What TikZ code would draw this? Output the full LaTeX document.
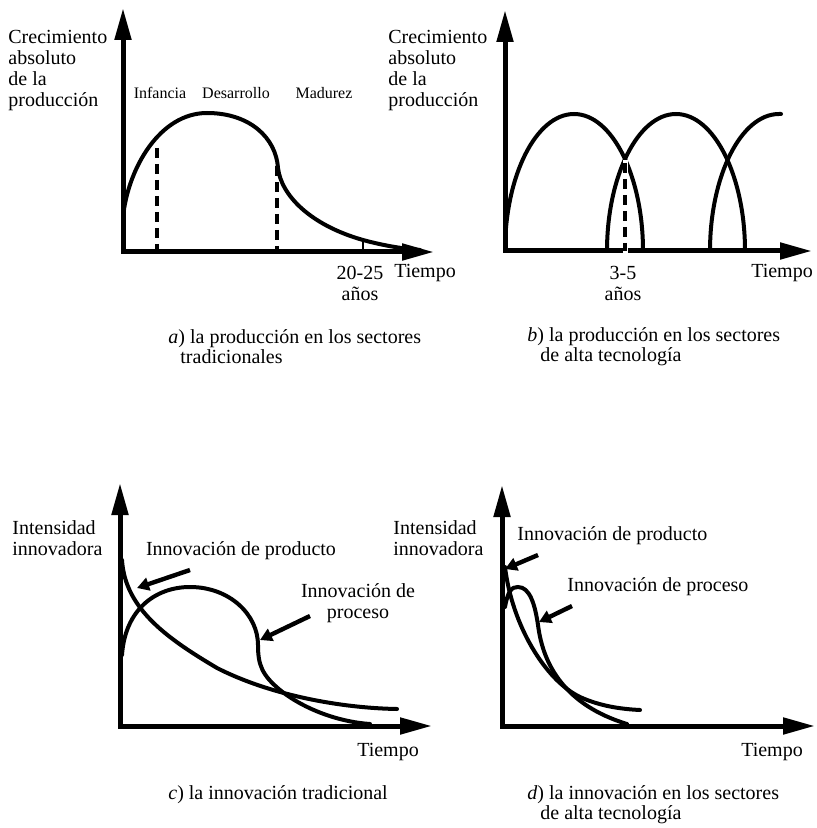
\documentclass[tikz,border=0pt]{standalone}
\usepackage{fontspec}
\setmainfont{Liberation Serif}
\usetikzlibrary{arrows.meta}
\tikzset{axes/.style={line width=2.5pt, line join=miter, {Triangle[length=16pt,width=8pt]}-{Triangle[length=16pt,width=8pt]}},
         curve/.style={line width=2pt, line cap=round},
         guide/.style={line width=1.6pt, dash pattern=on 5pt off 3pt},
         ptr/.style={line width=2.2pt, -{Triangle[length=6pt,width=6.5pt]}},
         lbl/.style={font=\fontsize{10}{10.5}\selectfont, align=left, inner sep=0pt},
         stage/.style={font=\fontsize{8}{9}\selectfont, inner sep=0pt},
         capt/.style={font=\fontsize{10}{10}\selectfont, align=left, inner sep=0pt}}
\begin{document}
\begin{tikzpicture}[x=0.5pt, y=-0.5pt]
\useasboundingbox (0,0) rectangle (817,828);
% a) sectores tradicionales
\coordinate (ay) at (123,8); \coordinate (ao) at (123,252); \coordinate (ax) at (434,252);
\draw[curve] (123,217) .. controls (128,168) and (160,113) .. (207,113) .. controls (250,113) and (276,138) .. (278,168) .. controls (281,195) and (310,225) .. (363,240) .. controls (385,246) and (405,249) .. (420,250);
\draw[guide] (157,148) -- (157,250);
\draw[guide] (277,166) -- (277,250);
\draw[line width=1pt] (363,240) -- (363,251);
\draw[axes] (ay) -- (ao) -- (ax);
\node[lbl, anchor=west] (ya) at (8,71) {Crecimiento\\absoluto\\de la\\producción};
\node[stage] (inf) at (160,93) {Infancia};
\node[stage] (des) at (236,93) {Desarrollo};
\node[stage] (mad) at (324,93) {Madurez};
\node[lbl, align=center] (yrsa) at (360,283) {20-25\\años};
\node[lbl] (ta) at (425,273) {Tiempo};
\node[capt, anchor=west] (capa) at (168,347) {\textit{a}) la producción en los sectores\\\hspace*{6pt}tradicionales};
% b) alta tecnología
\coordinate (by) at (505,10); \coordinate (bo) at (505,251); \coordinate (bx) at (812,251);
\foreach \c in {574,676} {
  \draw[curve] (\c-69,251) .. controls (\c-69,176) and (\c-38,114) .. (\c,114) .. controls (\c+38,114) and (\c+69,176) .. (\c+69,251);
}
\draw[curve] (710,251) .. controls (710,176) and (741,114) .. (779,114) -- (781,114);
\draw[axes] (by) -- (bo) -- (bx);
\draw[white, line width=2.5pt] (625,160) -- (625,253);
\draw[guide] (625,163) -- (625,251);
\node[lbl, anchor=west] (yb) at (388,71) {Crecimiento\\absoluto\\de la\\producción};
\node[lbl, align=center] (yrsb) at (623,283) {3-5\\años};
\node[lbl] (tb) at (782,273) {Tiempo};
\node[capt, anchor=west] (capb) at (527,347) {\textit{b}) la producción en los sectores\\\hspace*{6.5pt}de alta tecnología};
% c) innovación tradicional
\coordinate (cy) at (120,483); \coordinate (co) at (120,726); \coordinate (cx) at (432,726);
\draw[curve] (122,560) .. controls (125,610) and (170,640) .. (217,668) .. controls (270,695) and (340,708) .. (397,709);
\draw[curve] (122,655) .. controls (125,610) and (155,587) .. (190,587) .. controls (230,587) and (258,615) .. (258,645) .. controls (258,665) and (262,675) .. (280,690) .. controls (305,710) and (340,722) .. (370,724);
\draw[axes] (cy) -- (co) -- (cx);
\node[lbl, anchor=west] (yc) at (12,538) {Intensidad\\innovadora};
\node[lbl] (prc) at (241,551) {Innovación de producto};
\node[lbl, align=center] (psc) at (358,603) {Innovación de\\proceso};
\coordinate (prc1) at (190,570); \coordinate (prc2) at (137,588);
\coordinate (psc1) at (310,616); \coordinate (psc2) at (260,640);
\draw[ptr] (prc1) -- (prc2);
\draw[ptr] (psc1) -- (psc2);
\node[lbl] (tc) at (388,752) {Tiempo};
\node[capt, anchor=west] (capc) at (168,795) {\textit{c}) la innovación tradicional};
% d) innovación en alta tecnología
\coordinate (dy) at (502,485); \coordinate (do) at (502,726); \coordinate (dx) at (815,726);
\draw[curve] (505,567) .. controls (512,625) and (545,680) .. (580,697) .. controls (600,706) and (620,709) .. (640,710);
\draw[curve] (505,607) .. controls (508,590) and (512,587) .. (518,587) .. controls (530,587) and (535,605) .. (538,625) .. controls (543,665) and (565,705) .. (627,724);
\draw[axes] (dy) -- (do) -- (dx);
\node[lbl, anchor=west] (yd) at (393,538) {Intensidad\\innovadora};
\node[lbl, anchor=west] (prd) at (517,536) {Innovación de producto};
\node[lbl, anchor=west] (psd) at (567,587) {Innovación de proceso};
\coordinate (prd1) at (538,555); \coordinate (prd2) at (505,569);
\coordinate (psd1) at (572,606); \coordinate (psd2) at (539,622);
\draw[ptr] (prd1) -- (prd2);
\draw[ptr] (psd1) -- (psd2);
\node[lbl] (td) at (772,752) {Tiempo};
\node[capt, anchor=west] (capd) at (527,805) {\textit{d}) la innovación en los sectores\\\hspace*{6.5pt}de alta tecnología};
\end{tikzpicture}
\end{document}
